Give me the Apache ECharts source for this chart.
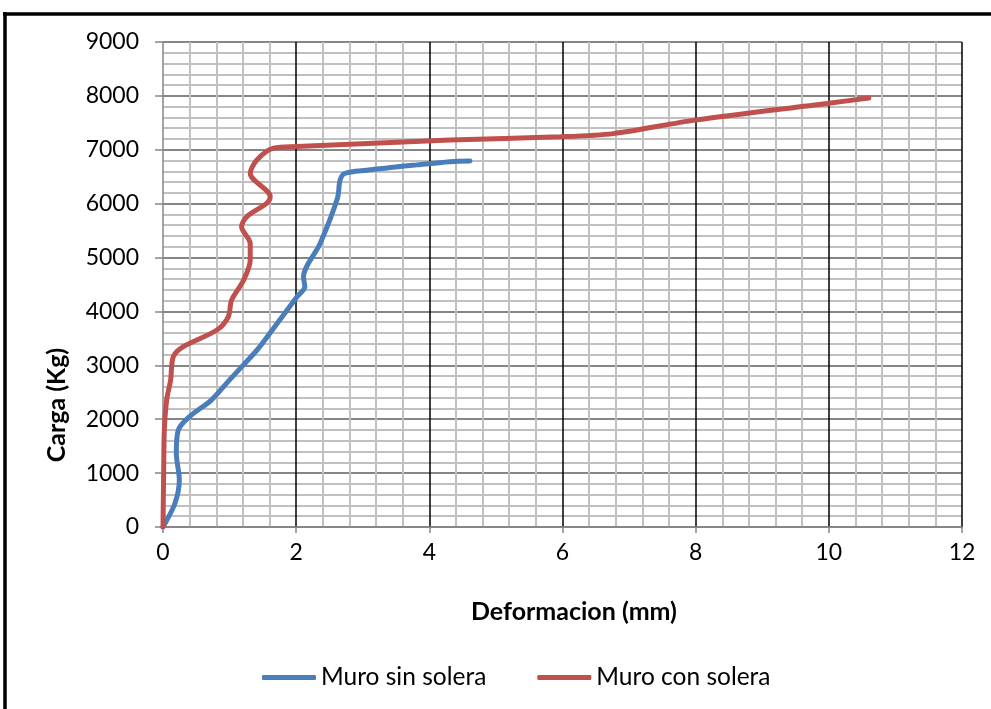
<!DOCTYPE html>
<html>
<head>
<meta charset="utf-8">
<script src="https://cdn.jsdelivr.net/npm/echarts@6/dist/echarts.min.js"></script>
<style>html,body{margin:0;padding:0;background:#fff}#c{width:991px;height:709px}</style>
</head>
<body>
<div id="c"></div>
<script>
const seriesNames = ['Muro sin solera', 'Muro con solera'];
const sinX = [0, 0.18, 0.245, 0.2, 0.23, 0.4, 0.73, 1.0, 1.41, 1.53, 2.01, 2.13, 2.11, 2.36, 2.62, 2.66, 2.73, 3.06, 3.81, 4.31, 4.61];
const sinY = [0, 440, 870, 1370, 1800, 2050, 2360, 2730, 3280, 3470, 4270, 4460, 4640, 5260, 6100, 6440, 6560, 6620, 6720, 6780, 6790];
const conX = [0, 0.01, 0.02, 0.055, 0.115, 0.155, 0.305, 0.81, 0.98, 1.03, 1.21, 1.31, 1.31, 1.18, 1.26, 1.56, 1.61, 1.31, 1.41, 1.66, 2.01, 4.31, 5.96, 6.76, 7.99, 9.97, 10.6];
const conY = [0, 1000, 1800, 2360, 2730, 3160, 3345, 3655, 3900, 4210, 4580, 4950, 5260, 5570, 5760, 6010, 6130, 6560, 6810, 7030, 7060, 7180, 7240, 7300, 7550, 7860, 7960];
const xTitle = 'Deformacion (mm)';
const yTitle = 'Carga (Kg)';

const pair = (xs, ys) => xs.map((x, i) => [x, ys[i]]);
const FONT = 'Lato';
const chart = echarts.init(document.getElementById('c'));
chart.setOption({
  animation: false,
  backgroundColor: '#fff',
  grid: {left: 163, right: 29, top: 42, bottom: 182},
  xAxis: {
    type: 'value', min: 0, max: 12, interval: 2,
    axisLine: {show: true, lineStyle: {color: '#868686', width: 1.5}},
    axisTick: {show: true, length: 6, lineStyle: {color: '#868686', width: 1.5}},
    axisLabel: {color: '#000', fontFamily: FONT, fontSize: 23, margin: 14, formatter: v => String(v)},
    splitLine: {show: true, showMinLine: false, lineStyle: {color: '#000', width: 1.5}},
    minorTick: {show: true, splitNumber: 5, length: 0},
    minorSplitLine: {show: true, lineStyle: {color: '#c0c0c0', width: 2}}
  },
  yAxis: {
    type: 'value', min: 0, max: 9000, interval: 1000,
    axisLine: {show: true, lineStyle: {color: '#868686', width: 1.5}},
    axisTick: {show: true, length: 8, lineStyle: {color: '#868686', width: 1.5}},
    axisLabel: {color: '#000', fontFamily: FONT, fontSize: 23, margin: 24, formatter: v => String(v)},
    splitLine: {show: true, lineStyle: {color: '#868686', width: 2}},
    minorTick: {show: true, splitNumber: 5, length: 0},
    minorSplitLine: {show: true, lineStyle: {color: '#c0c0c0', width: 2}}
  },
  legend: {
    left: 262, top: 665, padding: 0,
    itemWidth: 54, itemHeight: 5, itemGap: 51,
    icon: 'roundRect',
    textStyle: {color: '#000', fontFamily: FONT, fontSize: 24.5},
    data: seriesNames
  },
  graphic: [
    {type: 'line', shape: {x1: 3, y1: 14, x2: 1000, y2: 14}, style: {stroke: '#000', lineWidth: 3.5}, silent: true},
    {type: 'line', shape: {x1: 5, y1: 12, x2: 5, y2: 720}, style: {stroke: '#000', lineWidth: 3.5}, silent: true},
    {type: 'text', x: 574, y: 612, style: {text: xTitle, font: 'bold 25px ' + FONT, fill: '#000', textAlign: 'center', textVerticalAlign: 'middle'}},
    {type: 'text', x: 57, y: 405, rotation: Math.PI / 2, style: {text: yTitle, font: 'bold 25px ' + FONT, fill: '#000', textAlign: 'center', textVerticalAlign: 'middle'}}
  ],
  series: [
    {name: seriesNames[0], type: 'line', data: pair(sinX, sinY), showSymbol: false, smooth: 0.3,
     lineStyle: {color: '#4a7ebb', width: 5, cap: 'round'}, itemStyle: {color: '#4a7ebb'}, z: 3},
    {name: seriesNames[1], type: 'line', data: pair(conX, conY), showSymbol: false, smooth: 0.3,
     lineStyle: {color: '#c0504d', width: 5, cap: 'round'}, itemStyle: {color: '#c0504d'}, z: 4}
  ]
});
</script>
</body>
</html>
